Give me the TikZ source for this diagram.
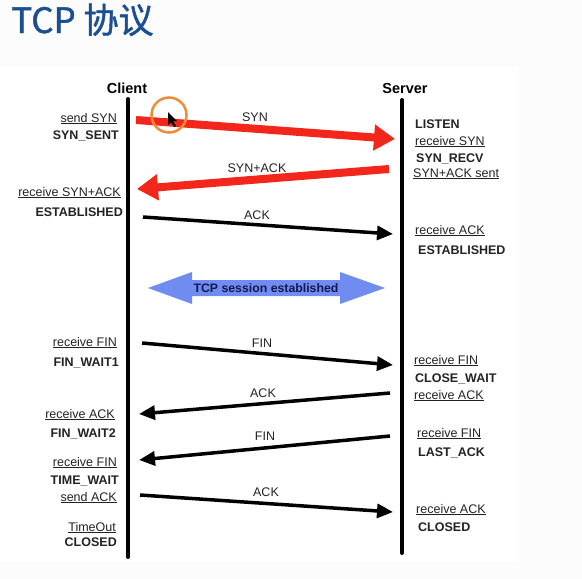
\documentclass[tikz,border=0pt]{standalone}
\usepackage{fontspec}
\setmainfont{Liberation Sans}
\newfontfamily\cjk[FakeBold=1.2]{Noto Sans CJK SC}
\usetikzlibrary{arrows.meta}
\definecolor{titleblue}{RGB}{27,79,145}
\definecolor{synred}{RGB}{242,38,26}
\definecolor{sessblue}{RGB}{112,140,240}
\definecolor{sessnavy}{RGB}{20,24,80}
\definecolor{ringorange}{RGB}{240,140,55}
\definecolor{txtgray}{RGB}{35,35,35}
\tikzset{
  lbl/.style={inner sep=0pt, text=txtgray, font=\fontsize{12.5}{14}\selectfont},
  stl/.style={lbl, font=\fontsize{12.5}{14}\selectfont\bfseries},
  lleft/.style={anchor=base east},
  lright/.style={anchor=base west},
  msg/.style={lbl, anchor=base},
  lifeline/.style={line width=4pt, line cap=round, black},
  redmsg/.style={line width=8pt, synred, -{Triangle[length=21pt,width=25pt]}},
  blackmsg/.style={line width=3.5pt, black, -{Triangle[length=16pt,width=14pt]}},
  actor/.style={inner sep=0pt, font=\fontsize{14.5}{16}\selectfont\bfseries, anchor=base}
}
\begin{document}
\begin{tikzpicture}[x=1pt,y=-1pt]
\useasboundingbox (0,0) rectangle (582,579);
\fill[black!1] (0,0) rectangle (582,579);
\fill[white] (0,67) rectangle (518,562);
% title
\node[anchor=base west, inner sep=0pt, text=titleblue, font=\cjk\fontsize{35}{40}\selectfont] (title) at (11,33) {TCP 协议};
% actors
\node[actor] (client) at (127,93.5) {Client};
\node[actor] (server) at (405,93.5) {Server};
% lifelines
\coordinate (ctop) at (128,99);
\coordinate (cbot) at (128,557);
\coordinate (stop) at (402,100);
\coordinate (sbot) at (402,553);
\draw[lifeline] (ctop) -- (cbot);
\draw[lifeline] (stop) -- (sbot);
% message endpoints
\coordinate (a1) at (136,120);  \coordinate (b1) at (395,139);
\coordinate (a2) at (389,169);  \coordinate (b2) at (137,189);
\coordinate (a3) at (143,217);  \coordinate (b3) at (393,234);
\coordinate (a4) at (142,343);  \coordinate (b4) at (393,365);
\coordinate (a5) at (390,393);  \coordinate (b5) at (139,414);
\coordinate (a6) at (390,436);  \coordinate (b6) at (139,460);
\coordinate (a7) at (140,495);  \coordinate (b7) at (393,512);
\draw[redmsg] (a1) -- (b1);
\draw[redmsg] (a2) -- (b2);
\draw[blackmsg] (a3) -- (b3);
\draw[blackmsg] (a4) -- (b4);
\draw[blackmsg] (a5) -- (b5);
\draw[blackmsg] (a6) -- (b6);
\draw[blackmsg] (a7) -- (b7);
% message labels
\node[msg] (m1) at (255,121.5) {SYN};
\node[msg] (m2) at (257,172.5) {SYN+ACK};
\node[msg] (m3) at (257,219.5) {ACK};
\node[msg] (m4) at (262,347.5) {FIN};
\node[msg] (m5) at (263,397.5) {ACK};
\node[msg] (m6) at (265,440.5) {FIN};
\node[msg] (m7) at (266,496.5) {ACK};
% session arrow
\fill[sessblue] (148,288) -- (192,272) -- (192,280) -- (340,280) -- (340,272) -- (385,288)
  -- (340,304) -- (340,296) -- (192,296) -- (192,304) -- cycle;
\node[inner sep=0pt, text=sessnavy, font=\fontsize{12.3}{14}\selectfont\bfseries, anchor=base] (sess) at (266,292.5) {TCP session established};
% client side labels
\node[lbl,lleft] (l1) at (117,122) {\underline{send SYN}};
\node[stl,lleft] (l2) at (119,139.5) {SYN\_SENT};
\node[lbl,lleft] (l3) at (121,196) {\underline{receive SYN+ACK}};
\node[stl,lleft] (l4) at (123,216.5) {ESTABLISHED};
\node[lbl,lleft] (l5) at (117,346) {\underline{receive FIN}};
\node[stl,lleft] (l6) at (119,366.5) {FIN\_WAIT1};
\node[lbl,lleft] (l7) at (115,418) {\underline{receive ACK}};
\node[stl,lleft] (l8) at (116,437.5) {FIN\_WAIT2};
\node[lbl,lleft] (l9) at (117,466) {\underline{receive FIN}};
\node[stl,lleft] (l10) at (119,484.5) {TIME\_WAIT};
\node[lbl,lleft] (l11) at (117,501) {\underline{send ACK}};
\node[lbl,lleft] (l12) at (116,531) {\underline{TimeOut}};
\node[stl,lleft] (l13) at (117,546.5) {CLOSED};
% server side labels
\node[stl,lright] (r1) at (415,128.5) {LISTEN};
\node[lbl,lright] (r2) at (415,145) {\underline{receive SYN}};
\node[stl,lright] (r3) at (416,162.5) {SYN\_RECV};
\node[lbl,lright] (r4) at (413,177) {\underline{SYN+ACK sent}};
\node[lbl,lright] (r5) at (415,234) {\underline{receive ACK}};
\node[stl,lright] (r6) at (418,254.5) {ESTABLISHED};
\node[lbl,lright] (r7) at (414,364) {\underline{receive FIN}};
\node[stl,lright] (r8) at (415,382.5) {CLOSE\_WAIT};
\node[lbl,lright] (r9) at (414,399) {\underline{receive ACK}};
\node[lbl,lright] (r10) at (417,437) {\underline{receive FIN}};
\node[stl,lright] (r11) at (418,456.5) {LAST\_ACK};
\node[lbl,lright] (r12) at (416,513) {\underline{receive ACK}};
\node[stl,lright] (r13) at (418,531.5) {CLOSED};
% cursor highlight
\node[draw=ringorange, line width=2.5pt, circle, minimum size=35pt, inner sep=0pt] (ring) at (169,115) {};
\fill[black] (168,112) -- (168,125) -- (171,122) -- (174,127) -- (176,126) -- (173,121) -- (177,121) -- cycle;
\end{tikzpicture}
\end{document}
